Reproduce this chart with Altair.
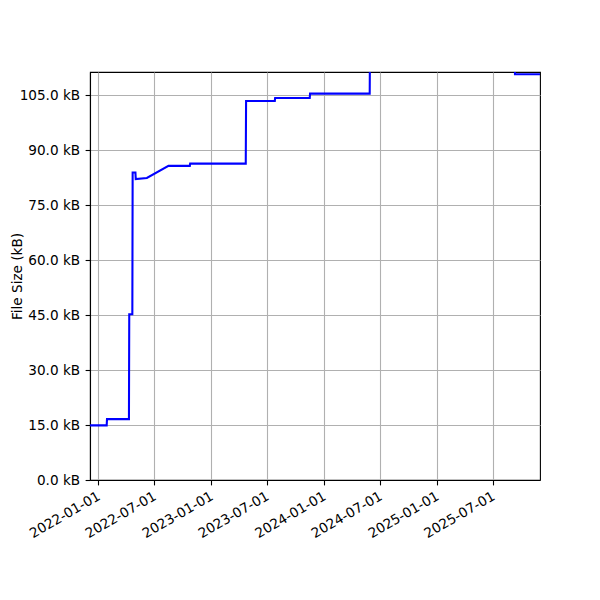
import altair as alt
import pandas as pd

# Data
dates = [
    "2021-12-05", "2022-01-28", "2022-01-29", "2022-04-10", "2022-04-11",
    "2022-04-21", "2022-04-22", "2022-05-01", "2022-05-02", "2022-06-07",
    "2022-08-16", "2022-10-24", "2022-10-25", "2023-04-23", "2023-04-24",
    "2023-07-26", "2023-07-27", "2023-11-16", "2023-11-17", "2024-05-28",
    "2024-05-29", "2025-09-09", "2025-09-10", "2025-11-30",
]
sizes_kb = [
    14.9, 14.9, 16.6, 16.6, 45.2,
    45.2, 83.9, 83.9, 82.1, 82.4,
    85.7, 85.7, 86.3, 86.3, 103.4,
    103.4, 104.2, 104.2, 105.4, 105.4,
    120.0, 120.0, 110.7, 110.7,
]
y_ticks = [0, 15, 30, 45, 60, 75, 90, 105]
x_tick_dates = [(2022, 1), (2022, 7), (2023, 1), (2023, 7),
                (2024, 1), (2024, 7), (2025, 1), (2025, 7)]

df = pd.DataFrame({"date": dates, "size": sizes_kb})

FONT = "DejaVu Sans"
FS = 13.6

x_enc = alt.X(
    "date:T",
    scale=alt.Scale(
        type="utc",
        domain=[alt.DateTime(year=2021, month=12, date=5, utc=True),
                alt.DateTime(year=2025, month=11, date=30, utc=True)],
    ),
    axis=alt.Axis(
        title=None,
        values=[alt.DateTime(year=y, month=m, date=1, utc=True) for y, m in x_tick_dates],
        format="%Y-%m-%d",
        labelAngle=-30,
        labelAlign="right",
        labelBaseline="top",
        labelOffset=-3,
        labelPadding=4,
        labelOverlap=False,
    ),
)

y_enc = alt.Y(
    "size:Q",
    scale=alt.Scale(domain=[0, 111.3], nice=False, zero=False),
    axis=alt.Axis(
        title="File Size (kB)",
        values=y_ticks,
        labelExpr="format(datum.value, '.1f') + ' kB'",
        labelOverlap=False,
        titleX=-73,
        titleY=204,
        titleAngle=-90,
        titleAlign="center",
        titleBaseline="middle",
        labelPadding=5.5,
    ),
)

chart = (
    alt.Chart(df)
    .mark_line(color="blue", strokeWidth=2.08, clip=True)
    .encode(x=x_enc, y=y_enc)
    .properties(
        width=450,
        height=408,
        autosize=alt.AutoSizeParams(type="none"),
        padding={"left": 82, "top": 64, "right": 52, "bottom": 100},
    )
    .configure_view(stroke="black", strokeWidth=1.1)
    .configure_axis(
        grid=True,
        gridColor="#b0b0b0",
        gridWidth=1.1,
        domainColor="black",
        domainWidth=1.1,
        tickColor="black",
        tickWidth=1.1,
        tickSize=4.9,
        labelFont=FONT,
        labelFontSize=FS,
        labelColor="black",
        titleFont=FONT,
        titleFontSize=FS,
        titleFontWeight="normal",
        titleColor="black",
    )
)

chart.save("out.html", embed_options={"renderer": "svg", "actions": False})
